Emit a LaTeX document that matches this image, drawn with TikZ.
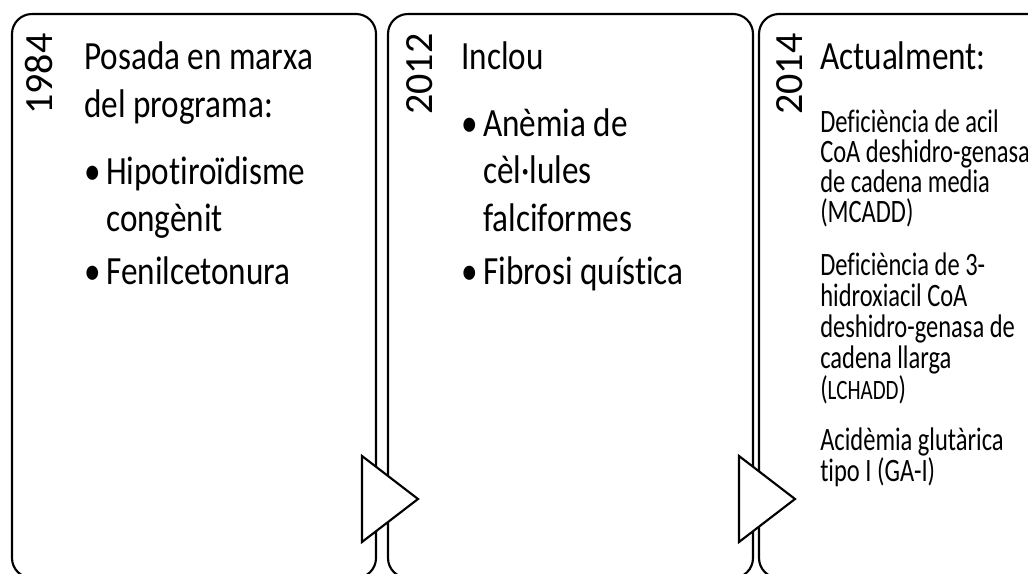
\documentclass[tikz,border=0pt]{standalone}
\usepackage{fontspec}
\setmainfont{Carlito}[FakeStretch=0.83,Ligatures=NoCommon]
\newfontfamily\yearfont{Carlito}[Ligatures=NoCommon]
\newfontfamily\narrowfont{Carlito}[FakeStretch=0.75,Ligatures=NoCommon]
\begin{document}
\begin{tikzpicture}[x=0.75pt,y=-0.75pt,
  panel/.style={draw=black,line width=1.6pt,rounded corners=15pt},
  tri/.style={draw=black,fill=white,line width=1.6pt,line join=miter},
  big/.style={inner sep=0pt,anchor=base west,font=\fontsize{30}{36}\selectfont},
  small/.style={inner sep=0pt,anchor=base west,font=\narrowfont\fontsize{24.5}{24.5}\selectfont},
  yr/.style={inner sep=0pt,anchor=base west,rotate=90,font=\yearfont\fontsize{30}{36}\selectfont}]
\useasboundingbox (0,0) rectangle (1028,574);
\clip (0,0) rectangle (1028,574);
\fill[white] (0,0) rectangle (1028,574);
% panels
\draw[panel] (12,14) rectangle (376,578);
\draw[panel] (388,14) rectangle (753,578);
\draw[panel] (759,14) rectangle (1120,578);
% panel 1
\node[yr] (y1) at (52,115) {1984};
\node[big] (a1) at (84,70) {Posada en marxa};
\node[big] (a2) at (84,118) {del programa:};
\node[big] (b1) at (84,185) {•};
\node[big] (a3) at (106,185) {Hipotiroïdisme};
\node[big] (a4) at (106,232) {congènit};
\node[big] (b2) at (84,284) {•};
\node[big] (a5) at (106,284) {Fenilcetonura};
% panel 2
\node[yr] (y2) at (432,115) {2012};
\node[big] (c1) at (461,70) {Inclou};
\node[big] (b3) at (461,137) {•};
\node[big] (c2) at (483,137) {Anèmia de};
\node[big] (c3) at (483,184) {cèl·lules};
\node[big] (c4) at (483,231) {falciformes};
\node[big] (b4) at (461,284) {•};
\node[big] (c5) at (483,284) {Fibrosi quística};
% panel 3
\node[yr] (y3) at (802,115) {2014};
\node[big] (d0) at (820,70) {Actualment:};
\node[small] (d1) at (820,133) {Deficiència de acil};
\node[small] (d2) at (820,163) {CoA deshidro-genasa};
\node[small] (d3) at (820,193) {de cadena media};
\node[small] (d4) at (820,223) {(MCADD)};
\node[small] (e1) at (820,275) {Deficiència de 3-};
\node[small] (e2) at (820,306) {hidroxiacil CoA};
\node[small] (e3) at (820,337) {deshidro-genasa de};
\node[small] (e4) at (820,368) {cadena llarga};
\node[small] (e5) at (820,399) {({\fontsize{21}{21}\selectfont LCHADD})};
\node[small] (f1) at (820,450) {Acidèmia glutàrica};
\node[small] (f2) at (820,481) {tipo I (GA-I)};
% arrows
\draw[tri] (362,456) -- (418,499) -- (362,542) -- cycle;
\draw[tri] (739,456) -- (795,499) -- (739,542) -- cycle;
\end{tikzpicture}
\end{document}
